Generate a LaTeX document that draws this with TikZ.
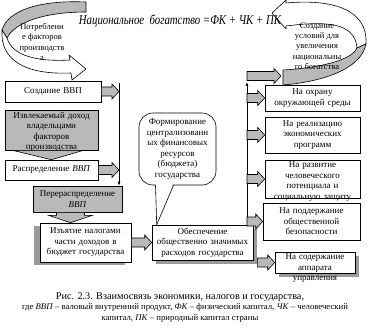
\documentclass[tikz,border=0pt]{standalone}
\usepackage{fontspec}
\setmainfont{Liberation Serif}
\usetikzlibrary{calc, arrows.meta, shadows}

\definecolor{fillgr}{HTML}{B9B9B9}
\definecolor{shadegr}{HTML}{9A9A9A}
\newcommand\boxfont{\fontsize{9}{10.5}\selectfont}

% grey block arrow from #1 to #2 (uses the height of #1)
\newcommand\garrow[2]{%
  \path[garrowfill] let \p1=#1, \p2=#2 in
    (\x1,\y1+4.5pt) -- (\x2-7pt,\y1+4.5pt) -- (\x2-7pt,\y1+7.5pt) -- (\x2,\y1)
    -- (\x2-7pt,\y1-7.5pt) -- (\x2-7pt,\y1-4.5pt) -- (\x1,\y1-4.5pt) -- cycle;}

\tikzset{
  blk/.style={draw, fill=white, font=\boxfont, align=center, inner sep=1pt},
  greyblk/.style={blk, fill=fillgr},
  shadowl/.style={drop shadow={shadow xshift=-6pt, shadow yshift=-3pt, fill=shadegr, opacity=1}},
  shadowr/.style={drop shadow={shadow xshift=4pt, shadow yshift=-4pt, fill=shadegr, opacity=1}},
  garrowfill/.style={draw, fill=fillgr},
  ribbon/.style={draw, fill=#1, line join=round},
}

\begin{document}
\begin{tikzpicture}[x=1pt, y=-1pt, line width=0.6pt]
\useasboundingbox (0,0) rectangle (367,329);

% curved ribbons
\path[ribbon=fillgr] (86,2) .. controls (40,0) and (8,10) .. (2,30) -- (7,38)
  .. controls (15,22) and (45,12) .. (86,12) -- cycle;
\path[ribbon=white] (2,30) -- (7,38) .. controls (12,55) and (35,62) .. (70,60)
  -- (69,55) -- (86,69) -- (72,80) -- (71,73) .. controls (25,75) and (0,60) .. (2,30);
\node[font=\fontsize{8.5}{10.5}\selectfont, align=center] (consum) at (42,42)
  {Потреблени\\е факторов\\производств\\а};

\path[ribbon=white] (286,3) .. controls (330,-1) and (368,8) .. (366,44) -- (357,48)
  .. controls (355,22) and (325,21) .. (286,26) -- (286,29) -- (272,13) -- (286,0) -- cycle;
\path[ribbon=fillgr] (366,44) .. controls (361,70) and (320,82) .. (283,85) -- (283,70)
  .. controls (320,68) and (352,60) .. (357,48) -- cycle;
\node[font=\fontsize{8.5}{10.3}\selectfont, align=center] (cond) at (317,46)
  {Создание\\условий для\\увеличения\\национальны\\го богатства};

\node[font=\fontsize{13.5}{15}\selectfont\itshape] (title) at (180,21)
  {\scalebox{0.8}[1]{Национальное\ \ богатство =ФК + ЧК + ПК}};

% left column
\node[blk, text width=94pt, minimum height=21pt] (gdp) at (53,91.5) {Создание ВВП};
\node[greyblk, text width=91pt] (income) at (51.5,130)
  {\parbox[c][38pt][t]{91pt}{\centering\vspace{1pt}Извлекаемый доход\\владельцами\\факторов\\производства}};
\node[blk, text width=91pt, minimum height=20pt] (distr) at (51.5,170) {Распределение \textit{ВВП}};
\node[greyblk, text width=87pt, minimum height=26pt] (redistr) at (77.5,199)
  {Перераспределение\\\textit{ВВП}};
\node[blk, shadowl, text width=89pt, minimum height=39pt] (levy) at (85.5,242.5)
  {Изъятие налогами\\части доходов в\\бюджет государства};

% down pointers
\path[garrowfill] ($(income.south)+(-39,0)$) -- ($(income.south)+(32,0)$) -- (distr.north) -- cycle;
\path[garrowfill] ($(redistr.south)+(-21,0)$) -- ($(redistr.south)+(7,0)$) -- ($(redistr.south)+(7,3)$)
  -- ($(redistr.south)+(15,3)$) -- ($(levy.north)+(-15,0)$) -- ($(redistr.south)+(-29,3)$)
  -- ($(redistr.south)+(-21,3)$) -- cycle;

% left collector line
\coordinate (lline) at (119,83);
\draw[-{Latex[length=4pt,width=3pt]}] (lline) -- (lline |- redistr.north);
\garrow{(gdp.east)}{(gdp.east -| lline)}
\garrow{(distr.east)}{(distr.east -| lline)}

% budget
\node[draw, fill=white, rounded corners=14pt, font=\boxfont, align=center,
  minimum width=77pt, minimum height=72pt, inner sep=1pt] (central) at (177.5,149)
  {Формирование\\централизованн\\ых финансовых\\ресурсов\\(бюджета)\\государства};
\node[blk, shadowr, text width=99pt, minimum height=35pt] (spend) at (202.5,242.5)
  {Обеспечение\\общественно значимых\\расходов государства};
\coordinate (tailtip) at ($(spend.north west)+(5,0)$);
\fill[white] ($(central.south)+(-22,-3)$) -- (tailtip) -- ($(central.south)+(-4,-3)$) -- cycle;
\draw ($(central.south)+(-22,0)$) -- (tailtip) -- ($(central.south)+(-4,0)$);
\garrow{(levy.east)}{(spend.west)}

% right column
\node[blk, text width=93pt, minimum height=26pt] (env) at (312.5,98) {На охрану\\окружающей среды};
\node[blk, text width=93pt, minimum height=36pt] (econ) at (312.5,135)
  {На реализацию\\экономических\\программ};
\node[blk, text width=93pt] (human) at (312.5,179)
  {\parbox[c][36pt][t]{93pt}{\centering\vspace{1pt}На развитие\\человеческого\\потенциала и\\социальную защиту}};
\node[blk, text width=95pt, minimum height=37pt] (safety) at (311.5,221.5)
  {На поддержание\\общественной\\безопасности};
\node[blk, shadowr, text width=78pt] (admin) at (315,262.5)
  {\parbox[c][19pt][t]{78pt}{\centering\vspace{1pt}На содержание\\аппарата\\управления}};

% right collector line
\coordinate (rline) at (247,82);
\coordinate (rtop) at (247,76);
\coordinate (rhead) at (281,76);
\draw[-{Latex[length=4pt,width=3pt]}] (rline |- spend.north) -- (rline);
\garrow{(rtop)}{(rhead)}
\garrow{(rline |- env.west)}{(env.west)}
\garrow{(rline |- econ.west)}{(econ.west)}
\garrow{(rline |- human.west)}{(human.west)}
\garrow{(rline |- safety.west)}{(safety.west)}
\garrow{([xshift=4pt]spend.east |- admin.west)}{(admin.west)}

% caption
\node[font=\fontsize{10.2}{11}\selectfont] (cap1) at (180,297)
  {Рис. 2.3. Взаимосвязь экономики, налогов и государства,};
\node[font=\fontsize{8.7}{10}\selectfont] (cap2) at (185,307.5)
  {где \textit{ВВП} – валовый внутренний продукт, \textit{ФК} – физический капитал, \textit{ЧК} – человеческий};
\node[font=\fontsize{8.7}{10}\selectfont] (cap3) at (180,318)
  {капитал, \textit{ПК} – природный капитал страны};
\end{tikzpicture}
\end{document}
